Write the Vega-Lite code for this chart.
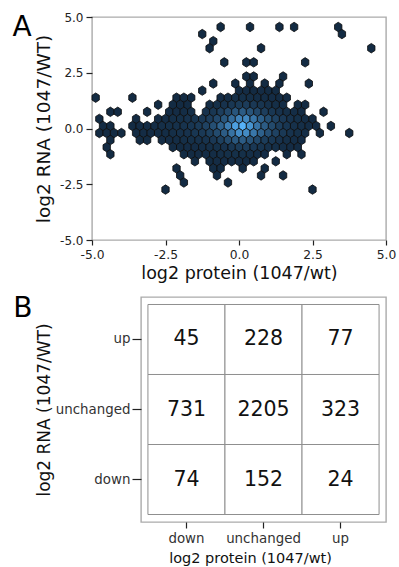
{
  "$schema": "https://vega.github.io/schema/vega-lite/v6.json",
  "padding": {"left": 11, "top": 10, "right": 0, "bottom": 0},
  "background": "white",
  "config": {
    "font": "DejaVu Sans",
    "view": {"stroke": "#ababab", "strokeWidth": 1.4},
    "axis": {"grid": false, "domain": false, "tickColor": "#222", "tickWidth": 1.2, "labelColor": "#222", "titleColor": "#111", "titleFontWeight": "normal", "labelFlush": false, "labelOverlap": false},
    "title": {"fontWeight": "normal", "anchor": "start", "frame": "bounds", "color": "#000"}
  },
  "datasets": {
    "hex": [
      {"x": -0.625, "y": 4.552, "n": 1}, {"x": 0.375, "y": 4.552, "n": 1}, {"x": 1.375, "y": 4.552, "n": 1}, {"x": 1.875, "y": 4.552, "n": 1}, {"x": 3.375, "y": 4.552, "n": 1},
      {"x": -1.25, "y": 4.235, "n": 1}, {"x": 3.5, "y": 4.235, "n": 1},
      {"x": -0.875, "y": 3.918, "n": 1},
      {"x": -1.0, "y": 3.601, "n": 1}, {"x": 0.75, "y": 3.601, "n": 1}, {"x": 4.5, "y": 3.601, "n": 1},
      {"x": -0.5, "y": 2.967, "n": 1}, {"x": 0.25, "y": 2.967, "n": 1}, {"x": 0.5, "y": 2.967, "n": 1}, {"x": 2.25, "y": 2.967, "n": 1},
      {"x": 0.25, "y": 2.333, "n": 1}, {"x": 0.5, "y": 2.333, "n": 1}, {"x": 1.5, "y": 2.333, "n": 1},
      {"x": -0.875, "y": 2.016, "n": 1}, {"x": -0.125, "y": 2.016, "n": 1}, {"x": 0.375, "y": 2.016, "n": 1}, {"x": 0.875, "y": 2.016, "n": 1}, {"x": 1.375, "y": 2.016, "n": 1}, {"x": 2.375, "y": 2.016, "n": 1},
      {"x": -1.25, "y": 1.699, "n": 1}, {"x": 0.0, "y": 1.699, "n": 1}, {"x": 0.25, "y": 1.699, "n": 2}, {"x": 0.5, "y": 1.699, "n": 1}, {"x": 0.75, "y": 1.699, "n": 2}, {"x": 1.0, "y": 1.699, "n": 1}, {"x": 1.25, "y": 1.699, "n": 1},
      {"x": -4.875, "y": 1.382, "n": 1}, {"x": -3.625, "y": 1.382, "n": 1}, {"x": -2.125, "y": 1.382, "n": 1}, {"x": -1.875, "y": 1.382, "n": 1}, {"x": -1.625, "y": 1.382, "n": 1},
      {"x": -0.625, "y": 1.382, "n": 2}, {"x": -0.375, "y": 1.382, "n": 3}, {"x": -0.125, "y": 1.382, "n": 4}, {"x": 0.125, "y": 1.382, "n": 5}, {"x": 0.375, "y": 1.382, "n": 4}, {"x": 0.625, "y": 1.382, "n": 3}, {"x": 0.875, "y": 1.382, "n": 3}, {"x": 1.125, "y": 1.382, "n": 2}, {"x": 1.375, "y": 1.382, "n": 1}, {"x": 1.625, "y": 1.382, "n": 1},
      {"x": -2.75, "y": 1.065, "n": 1}, {"x": -2.25, "y": 1.065, "n": 1}, {"x": -2.0, "y": 1.065, "n": 1}, {"x": -1.75, "y": 1.065, "n": 1},
      {"x": -1.0, "y": 1.065, "n": 3}, {"x": -0.75, "y": 1.065, "n": 5}, {"x": -0.5, "y": 1.065, "n": 7}, {"x": -0.25, "y": 1.065, "n": 11}, {"x": 0.0, "y": 1.065, "n": 14}, {"x": 0.25, "y": 1.065, "n": 15}, {"x": 0.5, "y": 1.065, "n": 12}, {"x": 0.75, "y": 1.065, "n": 9}, {"x": 1.0, "y": 1.065, "n": 6}, {"x": 1.25, "y": 1.065, "n": 4}, {"x": 1.5, "y": 1.065, "n": 3}, {"x": 2.0, "y": 1.065, "n": 1}, {"x": 2.25, "y": 1.065, "n": 1},
      {"x": -4.375, "y": 0.748, "n": 1}, {"x": -4.125, "y": 0.748, "n": 1}, {"x": -3.125, "y": 0.748, "n": 1},
      {"x": -2.375, "y": 0.748, "n": 2}, {"x": -2.125, "y": 0.748, "n": 2}, {"x": -1.875, "y": 0.748, "n": 3}, {"x": -1.625, "y": 0.748, "n": 4},
      {"x": -1.125, "y": 0.748, "n": 7}, {"x": -0.875, "y": 0.748, "n": 11}, {"x": -0.625, "y": 0.748, "n": 17}, {"x": -0.375, "y": 0.748, "n": 25}, {"x": -0.125, "y": 0.748, "n": 35}, {"x": 0.125, "y": 0.748, "n": 40}, {"x": 0.375, "y": 0.748, "n": 34}, {"x": 0.625, "y": 0.748, "n": 25}, {"x": 0.875, "y": 0.748, "n": 17}, {"x": 1.125, "y": 0.748, "n": 11}, {"x": 1.375, "y": 0.748, "n": 7}, {"x": 1.625, "y": 0.748, "n": 4}, {"x": 1.875, "y": 0.748, "n": 3}, {"x": 2.125, "y": 0.748, "n": 2}, {"x": 2.875, "y": 0.748, "n": 1},
      {"x": -4.75, "y": 0.431, "n": 1}, {"x": -3.5, "y": 0.431, "n": 1},
      {"x": -2.75, "y": 0.431, "n": 2}, {"x": -2.5, "y": 0.431, "n": 3}, {"x": -2.25, "y": 0.431, "n": 4}, {"x": -2.0, "y": 0.431, "n": 5}, {"x": -1.75, "y": 0.431, "n": 7}, {"x": -1.5, "y": 0.431, "n": 9}, {"x": -1.25, "y": 0.431, "n": 12}, {"x": -1.0, "y": 0.431, "n": 17}, {"x": -0.75, "y": 0.431, "n": 25}, {"x": -0.5, "y": 0.431, "n": 36}, {"x": -0.25, "y": 0.431, "n": 52}, {"x": 0.0, "y": 0.431, "n": 68}, {"x": 0.25, "y": 0.431, "n": 72}, {"x": 0.5, "y": 0.431, "n": 58}, {"x": 0.75, "y": 0.431, "n": 42}, {"x": 1.0, "y": 0.431, "n": 30}, {"x": 1.25, "y": 0.431, "n": 20}, {"x": 1.5, "y": 0.431, "n": 12}, {"x": 1.75, "y": 0.431, "n": 8}, {"x": 2.0, "y": 0.431, "n": 5}, {"x": 2.25, "y": 0.431, "n": 3}, {"x": 2.5, "y": 0.431, "n": 1},
      {"x": -4.625, "y": 0.114, "n": 1}, {"x": -4.375, "y": 0.114, "n": 1},
      {"x": -3.625, "y": 0.114, "n": 1}, {"x": -3.375, "y": 0.114, "n": 2}, {"x": -3.125, "y": 0.114, "n": 2}, {"x": -2.875, "y": 0.114, "n": 3}, {"x": -2.625, "y": 0.114, "n": 4}, {"x": -2.375, "y": 0.114, "n": 5}, {"x": -2.125, "y": 0.114, "n": 6}, {"x": -1.875, "y": 0.114, "n": 8}, {"x": -1.625, "y": 0.114, "n": 10}, {"x": -1.375, "y": 0.114, "n": 14}, {"x": -1.125, "y": 0.114, "n": 20}, {"x": -0.875, "y": 0.114, "n": 30}, {"x": -0.625, "y": 0.114, "n": 45}, {"x": -0.375, "y": 0.114, "n": 65}, {"x": -0.125, "y": 0.114, "n": 88}, {"x": 0.125, "y": 0.114, "n": 100}, {"x": 0.375, "y": 0.114, "n": 80}, {"x": 0.625, "y": 0.114, "n": 58}, {"x": 0.875, "y": 0.114, "n": 40}, {"x": 1.125, "y": 0.114, "n": 26}, {"x": 1.375, "y": 0.114, "n": 16}, {"x": 1.625, "y": 0.114, "n": 10}, {"x": 1.875, "y": 0.114, "n": 6}, {"x": 2.125, "y": 0.114, "n": 4}, {"x": 2.375, "y": 0.114, "n": 3}, {"x": 2.625, "y": 0.114, "n": 2}, {"x": 3.125, "y": 0.114, "n": 1},
      {"x": -4.75, "y": -0.203, "n": 1}, {"x": -4.5, "y": -0.203, "n": 1}, {"x": -4.25, "y": -0.203, "n": 1}, {"x": -4.0, "y": -0.203, "n": 1},
      {"x": -3.5, "y": -0.203, "n": 1}, {"x": -3.25, "y": -0.203, "n": 2}, {"x": -3.0, "y": -0.203, "n": 2}, {"x": -2.75, "y": -0.203, "n": 3}, {"x": -2.5, "y": -0.203, "n": 3}, {"x": -2.25, "y": -0.203, "n": 4}, {"x": -2.0, "y": -0.203, "n": 6}, {"x": -1.75, "y": -0.203, "n": 7}, {"x": -1.5, "y": -0.203, "n": 10}, {"x": -1.25, "y": -0.203, "n": 13}, {"x": -1.0, "y": -0.203, "n": 18}, {"x": -0.75, "y": -0.203, "n": 27}, {"x": -0.5, "y": -0.203, "n": 40}, {"x": -0.25, "y": -0.203, "n": 56}, {"x": 0.0, "y": -0.203, "n": 75}, {"x": 0.25, "y": -0.203, "n": 74}, {"x": 0.5, "y": -0.203, "n": 60}, {"x": 0.75, "y": -0.203, "n": 44}, {"x": 1.0, "y": -0.203, "n": 31}, {"x": 1.25, "y": -0.203, "n": 20}, {"x": 1.5, "y": -0.203, "n": 13}, {"x": 1.75, "y": -0.203, "n": 8}, {"x": 2.0, "y": -0.203, "n": 5}, {"x": 2.25, "y": -0.203, "n": 3}, {"x": 2.75, "y": -0.203, "n": 1}, {"x": 3.75, "y": -0.203, "n": 1},
      {"x": -4.375, "y": -0.52, "n": 1}, {"x": -3.375, "y": -0.52, "n": 1}, {"x": -3.125, "y": -0.52, "n": 1},
      {"x": -2.625, "y": -0.52, "n": 2}, {"x": -2.375, "y": -0.52, "n": 2}, {"x": -2.125, "y": -0.52, "n": 3}, {"x": -1.875, "y": -0.52, "n": 4}, {"x": -1.625, "y": -0.52, "n": 5}, {"x": -1.375, "y": -0.52, "n": 6}, {"x": -1.125, "y": -0.52, "n": 8}, {"x": -0.875, "y": -0.52, "n": 12}, {"x": -0.625, "y": -0.52, "n": 18}, {"x": -0.375, "y": -0.52, "n": 27}, {"x": -0.125, "y": -0.52, "n": 36}, {"x": 0.125, "y": -0.52, "n": 40}, {"x": 0.375, "y": -0.52, "n": 33}, {"x": 0.625, "y": -0.52, "n": 24}, {"x": 0.875, "y": -0.52, "n": 16}, {"x": 1.125, "y": -0.52, "n": 11}, {"x": 1.375, "y": -0.52, "n": 7}, {"x": 1.625, "y": -0.52, "n": 4}, {"x": 1.875, "y": -0.52, "n": 3}, {"x": 2.125, "y": -0.52, "n": 2},
      {"x": -4.5, "y": -0.837, "n": 1},
      {"x": -2.25, "y": -0.837, "n": 1}, {"x": -2.0, "y": -0.837, "n": 1}, {"x": -1.75, "y": -0.837, "n": 2}, {"x": -1.5, "y": -0.837, "n": 2}, {"x": -1.25, "y": -0.837, "n": 3}, {"x": -1.0, "y": -0.837, "n": 4}, {"x": -0.75, "y": -0.837, "n": 5}, {"x": -0.5, "y": -0.837, "n": 7}, {"x": -0.25, "y": -0.837, "n": 11}, {"x": 0.0, "y": -0.837, "n": 14}, {"x": 0.25, "y": -0.837, "n": 15}, {"x": 0.5, "y": -0.837, "n": 12}, {"x": 0.75, "y": -0.837, "n": 9}, {"x": 1.0, "y": -0.837, "n": 6}, {"x": 1.25, "y": -0.837, "n": 4}, {"x": 1.5, "y": -0.837, "n": 3}, {"x": 1.75, "y": -0.837, "n": 2}, {"x": 2.0, "y": -0.837, "n": 1},
      {"x": -4.375, "y": -1.154, "n": 1},
      {"x": -1.875, "y": -1.154, "n": 1}, {"x": -1.625, "y": -1.154, "n": 1}, {"x": -1.375, "y": -1.154, "n": 2}, {"x": -1.125, "y": -1.154, "n": 2}, {"x": -0.875, "y": -1.154, "n": 3}, {"x": -0.625, "y": -1.154, "n": 4}, {"x": -0.375, "y": -1.154, "n": 5}, {"x": -0.125, "y": -1.154, "n": 5}, {"x": 0.125, "y": -1.154, "n": 5}, {"x": 0.375, "y": -1.154, "n": 4}, {"x": 0.625, "y": -1.154, "n": 3}, {"x": 0.875, "y": -1.154, "n": 2}, {"x": 1.625, "y": -1.154, "n": 1}, {"x": 2.125, "y": -1.154, "n": 1},
      {"x": -1.5, "y": -1.471, "n": 1}, {"x": -1.0, "y": -1.471, "n": 1}, {"x": -0.75, "y": -1.471, "n": 2}, {"x": -0.5, "y": -1.471, "n": 2}, {"x": -0.25, "y": -1.471, "n": 2}, {"x": 0.0, "y": -1.471, "n": 2}, {"x": 0.25, "y": -1.471, "n": 1}, {"x": 0.5, "y": -1.471, "n": 1}, {"x": 1.25, "y": -1.471, "n": 1},
      {"x": -2.125, "y": -1.788, "n": 1}, {"x": -0.875, "y": -1.788, "n": 1}, {"x": -0.625, "y": -1.788, "n": 1}, {"x": 0.125, "y": -1.788, "n": 1}, {"x": 0.875, "y": -1.788, "n": 1},
      {"x": -2.0, "y": -2.105, "n": 1}, {"x": -0.75, "y": -2.105, "n": 1}, {"x": 0.75, "y": -2.105, "n": 1}, {"x": 1.5, "y": -2.105, "n": 1},
      {"x": -1.875, "y": -2.422, "n": 1}, {"x": -0.375, "y": -2.422, "n": 1},
      {"x": -2.5, "y": -2.739, "n": 1}, {"x": 2.5, "y": -2.739, "n": 1}
    ],
    "tab": [
      {"prot": "down", "rna": "up", "n": 45}, {"prot": "unchanged", "rna": "up", "n": 228}, {"prot": "up", "rna": "up", "n": 77},
      {"prot": "down", "rna": "unchanged", "n": 731}, {"prot": "unchanged", "rna": "unchanged", "n": 2205}, {"prot": "up", "rna": "unchanged", "n": 323},
      {"prot": "down", "rna": "down", "n": 74}, {"prot": "unchanged", "rna": "down", "n": 152}, {"prot": "up", "rna": "down", "n": 24}
    ],
    "blank": [{"k": 1}]
  },
  "concat": [
    {
      "width": 294,
      "height": 223,
      "title": {"text": "A", "fontSize": 28, "offset": -31, "dx": -22},
      "data": {"name": "hex"},
      "mark": {"type": "point", "shape": "M0,-1L0.78,-0.5L0.78,0.5L0,1L-0.78,0.5L-0.78,-0.5Z", "filled": true, "size": 89, "stroke": "#0b0b0b", "strokeWidth": 0.8, "opacity": 1},
      "encoding": {
        "x": {"field": "x", "type": "quantitative", "title": "log2 protein (1047/wt)",
          "scale": {"domain": [-5, 5], "nice": false, "zero": false},
          "axis": {"values": [-5, -2.5, 0, 2.5, 5], "labelExpr": "datum.value < 0 ? '-' + format(-datum.value, '.1f') : format(datum.value, '.1f')", "tickSize": 5, "labelFontSize": 12.3, "labelPadding": 3, "titleFontSize": 17.5, "titlePadding": 4}},
        "y": {"field": "y", "type": "quantitative", "title": "log2 RNA (1047/WT)",
          "scale": {"domain": [-5, 5], "nice": false, "zero": false},
          "axis": {"values": [-5, -2.5, 0, 2.5, 5], "labelExpr": "datum.value < 0 ? '-' + format(-datum.value, '.1f') : format(datum.value, '.1f')", "tickSize": 6, "labelFontSize": 12, "labelPadding": 3, "titleFontSize": 18.5, "titlePadding": 6}},
        "color": {"field": "n", "type": "quantitative", "legend": null,
          "scale": {"domain": [1, 100], "range": ["#132B43", "#56B1F7"], "interpolate": "lab"}}
      }
    },
    {
      "bounds": "flush",
      "spacing": 0,
      "hconcat": [
        {
          "width": 49,
          "height": 225,
          "view": {"stroke": null},
          "data": {"name": "blank"},
          "mark": {"type": "point", "opacity": 0},
          "encoding": {}
        },
        {
          "width": 245,
          "height": 225,
          "title": {"text": "B", "fontSize": 28, "offset": -26, "dx": -22},
          "data": {"name": "tab"},
          "encoding": {
            "x": {"field": "prot", "type": "nominal", "title": "log2 protein (1047/wt)",
              "scale": {"domain": ["down", "unchanged", "up"], "paddingInner": 0, "paddingOuter": 0.09},
              "axis": {"labelAngle": 0, "tickSize": 6, "labelFontSize": 13.4, "labelPadding": 3, "titleFontSize": 14.5, "titlePadding": 7, "titleX": 109, "labelColor": "#333"}},
            "y": {"field": "rna", "type": "nominal", "title": "log2 RNA (1047/WT)",
              "scale": {"domain": ["up", "unchanged", "down"], "paddingInner": 0, "paddingOuter": 0.107},
              "axis": {"tickSize": 9, "labelFontSize": 13.4, "labelPadding": 2, "titleFontSize": 17, "titlePadding": 2, "labelColor": "#333"}}
          },
          "layer": [
            {"mark": {"type": "rect", "fill": "white", "stroke": "#8f8f8f", "strokeWidth": 1}},
            {"mark": {"type": "text", "fontSize": 20.5, "color": "#111"}, "encoding": {"text": {"field": "n", "type": "nominal"}}}
          ]
        }
      ]
    }
  ],
  "columns": 1,
  "spacing": 11
}
